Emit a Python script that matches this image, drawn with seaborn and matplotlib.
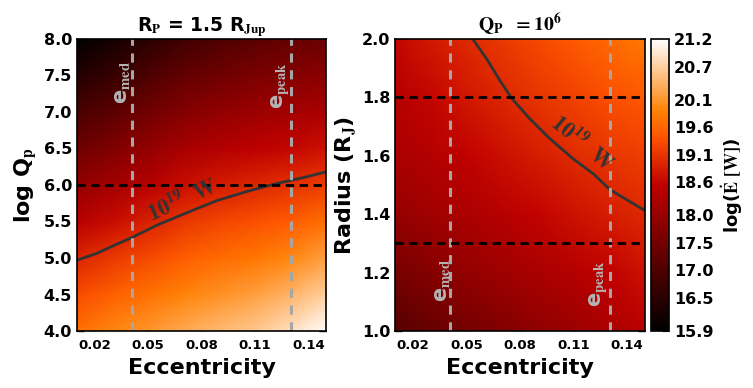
import numpy as np
import matplotlib
matplotlib.use('Agg')
import matplotlib.pyplot as plt
import seaborn as sns

# eixos das grades
ecc = [0.01, 0.03, 0.05, 0.07, 0.09, 0.11, 0.13, 0.15]
logq = [4.0, 4.5, 5.0, 5.5, 6.0, 6.5, 7.0, 7.5, 8.0]
radius = [1.0, 1.2, 1.4, 1.6, 1.8, 2.0]

# log(E) [W]: linhas = logQ, colunas = ecc
logE_q = [
    [19.70, 19.95, 20.10, 20.30, 20.46, 20.60, 20.85, 21.20],
    [19.33, 19.54, 19.71, 19.90, 20.06, 20.19, 20.40, 20.70],
    [18.94, 19.13, 19.31, 19.51, 19.66, 19.78, 19.95, 20.19],
    [18.43, 18.66, 18.90, 19.12, 19.26, 19.37, 19.50, 19.69],
    [17.93, 18.17, 18.42, 18.68, 18.83, 18.96, 19.05, 19.18],
    [17.42, 17.67, 17.94, 18.21, 18.37, 18.51, 18.61, 18.72],
    [16.92, 17.18, 17.46, 17.74, 17.91, 18.06, 18.17, 18.28],
    [16.41, 16.68, 16.98, 17.27, 17.45, 17.61, 17.73, 17.84],
    [15.90, 16.19, 16.50, 16.80, 16.99, 17.16, 17.29, 17.40],
]

# log(E) [W]: linhas = raio, colunas = ecc
logE_r = [
    [17.10, 17.32, 17.52, 17.70, 17.88, 18.05, 18.25, 18.45],
    [17.55, 17.75, 17.93, 18.10, 18.26, 18.42, 18.57, 18.72],
    [17.95, 18.12, 18.28, 18.44, 18.58, 18.72, 18.85, 18.97],
    [18.25, 18.40, 18.55, 18.70, 18.85, 19.00, 19.10, 19.20],
    [18.40, 18.60, 18.78, 18.95, 19.10, 19.23, 19.36, 19.48],
    [18.60, 18.80, 18.97, 19.14, 19.30, 19.47, 19.64, 19.80],
]

# curva de 10^19 W
c1_e = [0.010, 0.0212, 0.0324, 0.0408, 0.0549, 0.0717, 0.0885, 0.1053, 0.1222, 0.1369, 0.150]
c1_q = [4.97, 5.065, 5.19, 5.28, 5.45, 5.62, 5.785, 5.91, 6.02, 6.10, 6.18]
c2_e = [0.0535, 0.0613, 0.0688, 0.0753, 0.0856, 0.0968, 0.1099, 0.1211, 0.1304, 0.150]
c2_r = [2.00, 1.932, 1.857, 1.797, 1.726, 1.658, 1.589, 1.538, 1.484, 1.412]

e_med = 0.041
e_peak = 0.1305
q_ref = 6.0
r_ref = [1.8, 1.3]

cbar_ticks = [15.9, 16.5, 17.0, 17.5, 18.0, 18.6, 19.1, 19.6, 20.1, 20.7, 21.2]
cbar_labels = ['15.9', '16.5', '17.0', '17.5', '18.0', '18.6', '19.1', '19.6', '20.1', '20.7', '21.2']

sns.set_style('ticks')
plt.rcParams['font.family'] = ['DejaVu Sans']
plt.rcParams['font.weight'] = 'bold'
plt.rcParams['mathtext.fontset'] = 'stix'
plt.rcParams['text.color'] = 'black'
plt.rcParams['axes.labelcolor'] = 'black'
plt.rcParams['xtick.color'] = 'black'
plt.rcParams['ytick.color'] = 'black'
plt.rcParams['axes.edgecolor'] = 'black'
plt.rcParams['xtick.direction'] = 'in'
plt.rcParams['ytick.direction'] = 'in'
plt.rcParams['xtick.top'] = True
plt.rcParams['ytick.right'] = True

vmin, vmax = 15.9, 21.2
cmap = 'gist_heat'

fig = plt.figure(figsize=(7.53, 3.88), dpi=100)
ax1 = fig.add_axes([0.1023, 0.1469, 0.3307, 0.7526])
ax2 = fig.add_axes([0.5246, 0.1469, 0.3320, 0.7526])
cax = fig.add_axes([0.8645, 0.1469, 0.0243, 0.7526])

m = ax1.pcolormesh(ecc, logq, np.array(logE_q), cmap=cmap, vmin=vmin, vmax=vmax,
                   shading='gouraud', rasterized=True)
ax2.pcolormesh(ecc, radius, np.array(logE_r), cmap=cmap, vmin=vmin, vmax=vmax,
               shading='gouraud', rasterized=True)

# curvas de contorno
sns.lineplot(x=c1_e, y=c1_q, ax=ax1, color='#333333', lw=2, sort=False)
sns.lineplot(x=c2_e, y=c2_r, ax=ax2, color='#333333', lw=2, sort=False)

gray = '#a6a6a6'
for ax in (ax1, ax2):
    ax.axvline(e_med, color=gray, ls=(0, (3, 2.5)), lw=2.2)
    ax.axvline(e_peak, color=gray, ls=(0, (3, 2.5)), lw=2.2)
ax1.axhline(q_ref, color='black', ls=(0, (3, 2)), lw=2)
for r in r_ref:
    ax2.axhline(r, color='black', ls=(0, (3, 2)), lw=2)

# rótulos
ax1.text(0.0352, 7.41, r'e$_\mathbf{med}$', rotation=90, color='#b4b4b4',
         fontsize=15, ha='center', va='center')
ax1.text(0.1244, 7.36, r'e$_\mathbf{peak}$', rotation=90, color='#b4b4b4',
         fontsize=15, ha='center', va='center')
ax2.text(0.0361, 1.172, r'e$_\mathbf{med}$', rotation=90, color='#b4b4b4',
         fontsize=15, ha='center', va='center')
ax2.text(0.1242, 1.161, r'e$_\mathbf{peak}$', rotation=90, color='#b4b4b4',
         fontsize=15, ha='center', va='center')
ax1.text(0.0690, 5.81, r'$\mathbf{10^{19}\ \ W}$', rotation=24, color='#333333',
         fontsize=16, ha='center', va='center')
ax2.text(0.1155, 1.645, r'$\mathbf{10^{19}\ \ W}$', rotation=-40, color='#333333',
         fontsize=16, ha='center', va='center')

xt = [0.02, 0.05, 0.08, 0.11, 0.14]
ax1.set_xlim(0.01, 0.15)
ax1.set_ylim(4.0, 8.0)
ax1.set_yticks([4.0, 4.5, 5.0, 5.5, 6.0, 6.5, 7.0, 7.5, 8.0])
ax2.set_xlim(0.01, 0.15)
ax2.set_ylim(1.0, 2.0)
ax2.set_yticks([1.0, 1.2, 1.4, 1.6, 1.8, 2.0])
for ax in (ax1, ax2):
    ax.set_xticks(xt)
    ax.set_xticklabels(['0.02', '0.05', '0.08', '0.11', '0.14'])
    ax.tick_params(axis='x', labelsize=9.5, length=5, width=1, pad=6)
    ax.tick_params(axis='y', labelsize=11.5, length=5, width=1)
    ax.set_xlabel('Eccentricity', fontsize=16, fontweight='bold')
    for s in ax.spines.values():
        s.set_linewidth(1.2)
ax1.yaxis.set_major_formatter(plt.FormatStrFormatter('%.1f'))
ax2.yaxis.set_major_formatter(plt.FormatStrFormatter('%.1f'))

ax1.set_ylabel(r'log Q$_\mathbf{p}$', fontsize=16, fontweight='bold')
ax2.set_ylabel(r'Radius (R$_\mathbf{J}$)', fontsize=16, fontweight='bold', labelpad=2)
ax1.set_title(r'R$_\mathbf{P}$ = 1.5 R$_\mathbf{Jup}$', fontsize=13.5, fontweight='bold', pad=4)
ax2.set_title(r'$\mathbf{Q_P\ \ = 10^6}$', fontsize=14, pad=4)

cb = fig.colorbar(m, cax=cax)
cb.set_ticks(cbar_ticks)
cb.set_ticklabels(cbar_labels)
cb.ax.tick_params(labelsize=11.5, direction='in', length=5, right=True, left=False)
cb.outline.set_linewidth(1.2)
cb.set_label(r'log($\dot{\mathrm{E}}\ [\mathrm{W}]$)', fontsize=13, fontweight='bold')

fig.savefig('out.png', dpi=100)
